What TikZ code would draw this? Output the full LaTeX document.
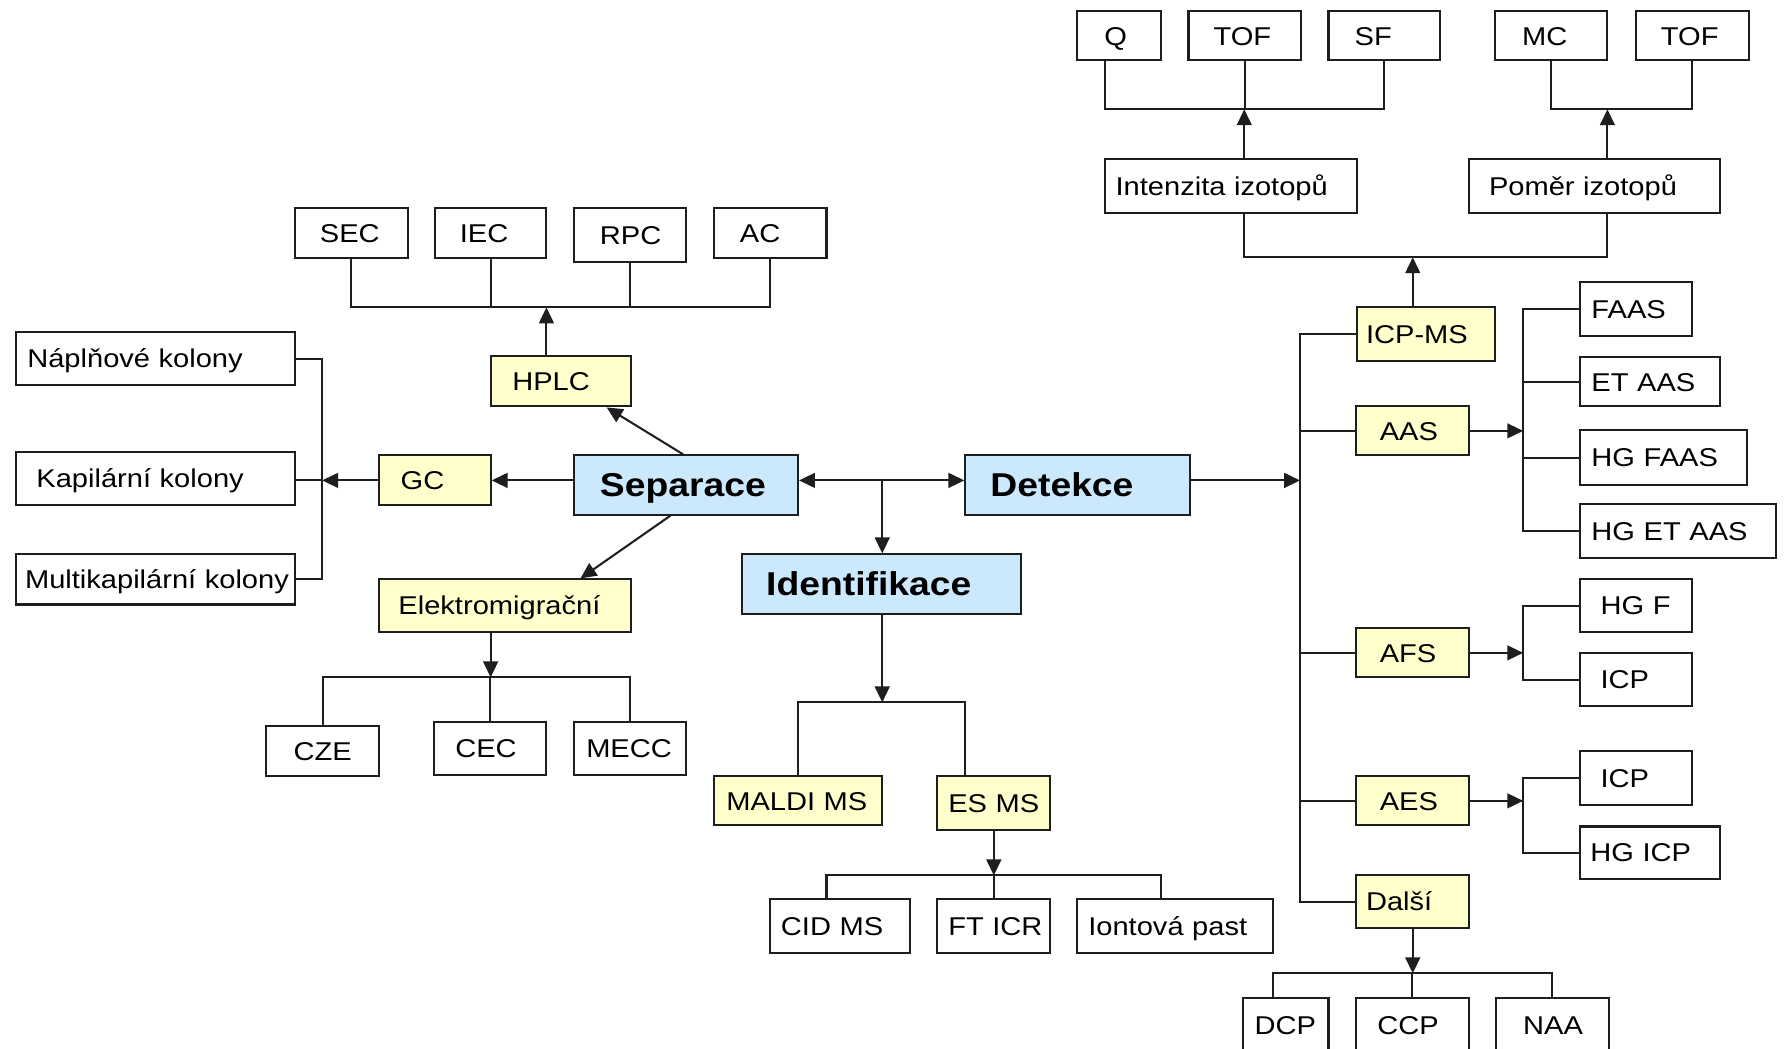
\documentclass[tikz,border=0pt]{standalone}
\usepackage{fontspec}
\setmainfont{Liberation Sans}[FakeStretch=1.13]
\usetikzlibrary{arrows.meta}
\definecolor{yel}{RGB}{255,255,204}
\definecolor{blu}{RGB}{204,232,252}
\definecolor{lin}{RGB}{30,30,30}
\tikzset{
 plainbox/.style={draw=lin, line width=0.9pt, fill=white, inner sep=0pt, align=left,
   text height=10pt, text depth=1.9pt, text=black, font=\fontsize{11.3}{13}\selectfont},
 yelbox/.style={plainbox, fill=yel},
 bluebox/.style={plainbox, fill=blu, text height=12.4pt, text depth=2pt,
   font=\fontsize{14.5}{17}\selectfont\bfseries},
 conn/.style={draw=lin, line width=0.9pt},
 arr/.style={conn, -{Triangle[length=7pt,width=6.5pt]}},
 darr/.style={conn, {Triangle[length=7pt,width=6.5pt]}-{Triangle[length=7pt,width=6.5pt]}},
}
% [style]{name}{x1}{y1}{x2}{y2}{left pad}{text}
\newcommand\bx[8][plainbox]{%
  \pgfmathsetmacro\myBW{(#5-#3)*0.5}%
  \pgfmathsetmacro\myBH{(#6-#4)*0.5}%
  \pgfmathsetmacro\myBP{(#7)*0.5}%
  \node[#1,minimum width=\myBW pt,minimum height=\myBH pt,text width=\myBW pt]
    (#2) at ({(#3+#5)/2},{(#4+#6)/2}) {\noindent\hspace*{\myBP pt}\mbox{#8}};}
\begin{document}
\begin{tikzpicture}[x=0.5pt,y=-0.5pt]
\useasboundingbox (0,0) rectangle (1568,921);
\fill[white] (0,0) rectangle (1568,921);
\clip (0,0) rectangle (1568,921);

% ---------- right top ----------
\bx{Q}{946}{10}{1020}{53}{24}{Q}
\bx{TOFa}{1044}{10}{1143}{53}{22}{TOF}
\bx{SF}{1167}{10}{1265}{53}{23}{SF}
\bx{MC}{1313}{10}{1412}{53}{24}{MC}
\bx{TOFb}{1437}{10}{1536}{53}{22}{TOF}
\bx{Int}{971}{140}{1192}{187}{9}{Intenzita izotopů}
\bx{Pom}{1290}{140}{1511}{187}{18}{Poměr izotopů}
\bx[yelbox]{ICPMS}{1192}{270}{1313}{317}{8}{ICP-MS}
\bx{FAAS}{1388}{248}{1486}{295}{10}{FAAS}
\bx{ETAAS}{1388}{314}{1511}{357}{10}{ET AAS}
\bx{HGFAAS}{1388}{378}{1535}{426}{10}{HG FAAS}
\bx{HGETAAS}{1388}{443}{1560}{490}{10}{HG ET AAS}
\bx[yelbox]{AAS}{1191}{357}{1290}{400}{21}{AAS}
\bx[bluebox]{Det}{848}{400}{1045}{452}{22}{Detekce}
\bx[yelbox]{AFS}{1191}{552}{1290}{595}{21}{AFS}
\bx{HGF}{1388}{509}{1486}{555}{18}{HG F}
\bx{ICPa}{1388}{574}{1486}{620}{18}{ICP}
\bx[yelbox]{AES}{1191}{682}{1290}{725}{21}{AES}
\bx{ICPb}{1388}{660}{1486}{707}{18}{ICP}
\bx{HGICP}{1388}{726}{1511}{772}{9}{HG ICP}
\bx[yelbox]{Dalsi}{1191}{769}{1290}{815}{9}{Další}
\bx{DCP}{1092}{877}{1167}{924}{10}{DCP}
\bx{CCP}{1191}{877}{1290}{924}{19}{CCP}
\bx{NAA}{1314}{877}{1413}{924}{24}{NAA}

% ---------- left ----------
\bx{SEC}{259}{183}{358}{227}{22}{SEC}
\bx{IEC}{382}{183}{480}{227}{22}{IEC}
\bx{RPC}{504}{183}{603}{230}{23}{RPC}
\bx{AC}{627}{183}{726}{227}{23}{AC}
\bx[yelbox]{HPLC}{431}{313}{554}{357}{19}{HPLC}
\bx{Napl}{14}{292}{259}{338}{10}{Náplňové kolony}
\bx{Kap}{14}{397}{259}{444}{18}{Kapilární kolony}
\bx{Multi}{14}{487}{259}{531}{8}{Multikapilární kolony}
\bx[yelbox]{GC}{333}{400}{431}{444}{19}{GC}
\bx[bluebox]{Sep}{504}{400}{701}{452}{23}{Separace}
\bx[yelbox]{Elek}{333}{509}{554}{555}{17}{Elektromigrační}
\bx{CZE}{234}{638}{333}{682}{24}{CZE}
\bx{CEC}{381}{634}{480}{681}{19}{CEC}
\bx{MECC}{504}{634}{603}{681}{11}{MECC}
\bx[bluebox]{Ident}{652}{487}{897}{539}{21}{Identifikace}
\bx[yelbox]{MALDI}{627}{682}{775}{725}{11}{MALDI MS}
\bx[yelbox]{ESMS}{823}{682}{922}{729}{10}{ES MS}
\bx{CID}{676}{790}{799}{837}{10}{CID MS}
\bx{FTICR}{823}{790}{922}{837}{10}{FT ICR}
\bx{Iont}{946}{790}{1118}{837}{10}{Iontová past}

% ---------- junction coordinates ----------
\coordinate (hb) at (480,270);
\coordinate (gb) at (283,422);
\coordinate (eb) at (431,595);
\coordinate (mid) at (775,422);
\coordinate (ib) at (775,617);
\coordinate (ib2) at (848,617);
\coordinate (esb) at (873,769);
\coordinate (c1) at (726,769);
\coordinate (c3) at (1020,769);
\coordinate (dv) at (1142,422);
\coordinate (ib3) at (1241,226);
\coordinate (ia) at (1093,226);
\coordinate (pa) at (1412,226);
\coordinate (tb1) at (1093,96);
\coordinate (qa) at (971,96);
\coordinate (tb2) at (1412,96);
\coordinate (ab) at (1338,378.5);
\coordinate (fb) at (1338,573.5);
\coordinate (sb) at (1338,703.5);
\coordinate (db) at (1241,855);
\coordinate (d1) at (1118,855);

% ---------- HPLC tree ----------
\draw[conn] (SEC.south) |- (hb) -| (AC.south);
\draw[conn] (IEC.south) -- (IEC.south |- hb);
\draw[conn] (RPC.south) -- (RPC.south |- hb);
\draw[arr] (HPLC.north -| hb) -- (hb);
\draw[arr] ([xshift=-1.2pt]Sep.north) -- ([xshift=-11pt]HPLC.south east);

% ---------- GC ----------
\draw[arr] (Sep.west |- gb) -- (GC.east |- gb);
\draw[arr] (GC.west |- gb) -- (gb);
\draw[conn] (Napl.east) -| (gb) |- (Multi.east);
\draw[conn] (Kap.east |- gb) -- (gb);

% ---------- Elektromigracni ----------
\draw[arr] ([xshift=-6.75pt]Sep.south) -- ([xshift=-22.5pt]Elek.north east);
\draw[arr] (Elek.south -| eb) -- (eb);
\draw[conn] (CZE.north) |- (eb) -| (MECC.north);
\draw[conn] (CEC.north) -- (CEC.north |- eb);

% ---------- centre ----------
\draw[darr] (Sep.east |- mid) -- (Det.west |- mid);
\draw[arr] (mid) -- (Ident.north -| mid);
\draw[arr] (Ident.south -| ib) -- (ib);
\draw[conn] (MALDI.north) |- (ib2) -- (ib2 |- ESMS.north);
\draw[arr] (ESMS.south -| esb) -- (esb);
\draw[conn] (c1 |- CID.north) -- (c1) -- (c3) -- (c3 |- Iont.north);
\draw[conn] (FTICR.north -| esb) -- (esb);

% ---------- Detekce ----------
\draw[arr] (Det.east |- dv) -- (dv);
\draw[conn] (ICPMS.west) -| (dv) |- (Dalsi.west);
\draw[conn] (AAS.west) -- (AAS.west -| dv);
\draw[conn] (AFS.west) -- (AFS.west -| dv);
\draw[conn] (AES.west) -- (AES.west -| dv);

% ICP-MS tree
\draw[arr] (ICPMS.north -| ib3) -- (ib3);
\draw[conn] (ia |- Int.south) -- (ia) -- (pa) -- (pa |- Pom.south);
\draw[arr] (Int.north -| tb1) -- (tb1);
\draw[conn] (qa |- Q.south) -- (qa) -| (SF.south);
\draw[conn] (TOFa.south) -- (TOFa.south |- tb1);
\draw[arr] (Pom.north -| tb2) -- (tb2);
\draw[conn] (MC.south) |- (tb2) -| (TOFb.south);

% AAS
\draw[arr] (AAS.east) -- (ab);
\draw[conn] (FAAS.west) -| (ab) |- (HGETAAS.west);
\draw[conn] (ETAAS.west) -- (ETAAS.west -| ab);
\draw[conn] (HGFAAS.west) -- (HGFAAS.west -| ab);
% AFS
\draw[arr] (AFS.east) -- (fb);
\draw[conn] (HGF.west) -| (fb) |- (ICPa.west);
% AES
\draw[arr] (AES.east) -- (sb);
\draw[conn] (ICPb.west) -| (sb) |- (HGICP.west);
% Dalsi
\draw[arr] (Dalsi.south -| db) -- (db);
\draw[conn] (d1 |- DCP.north) -- (d1) -| (NAA.north);
\draw[conn] (CCP.north) -- (CCP.north |- db);
\end{tikzpicture}
\end{document}
